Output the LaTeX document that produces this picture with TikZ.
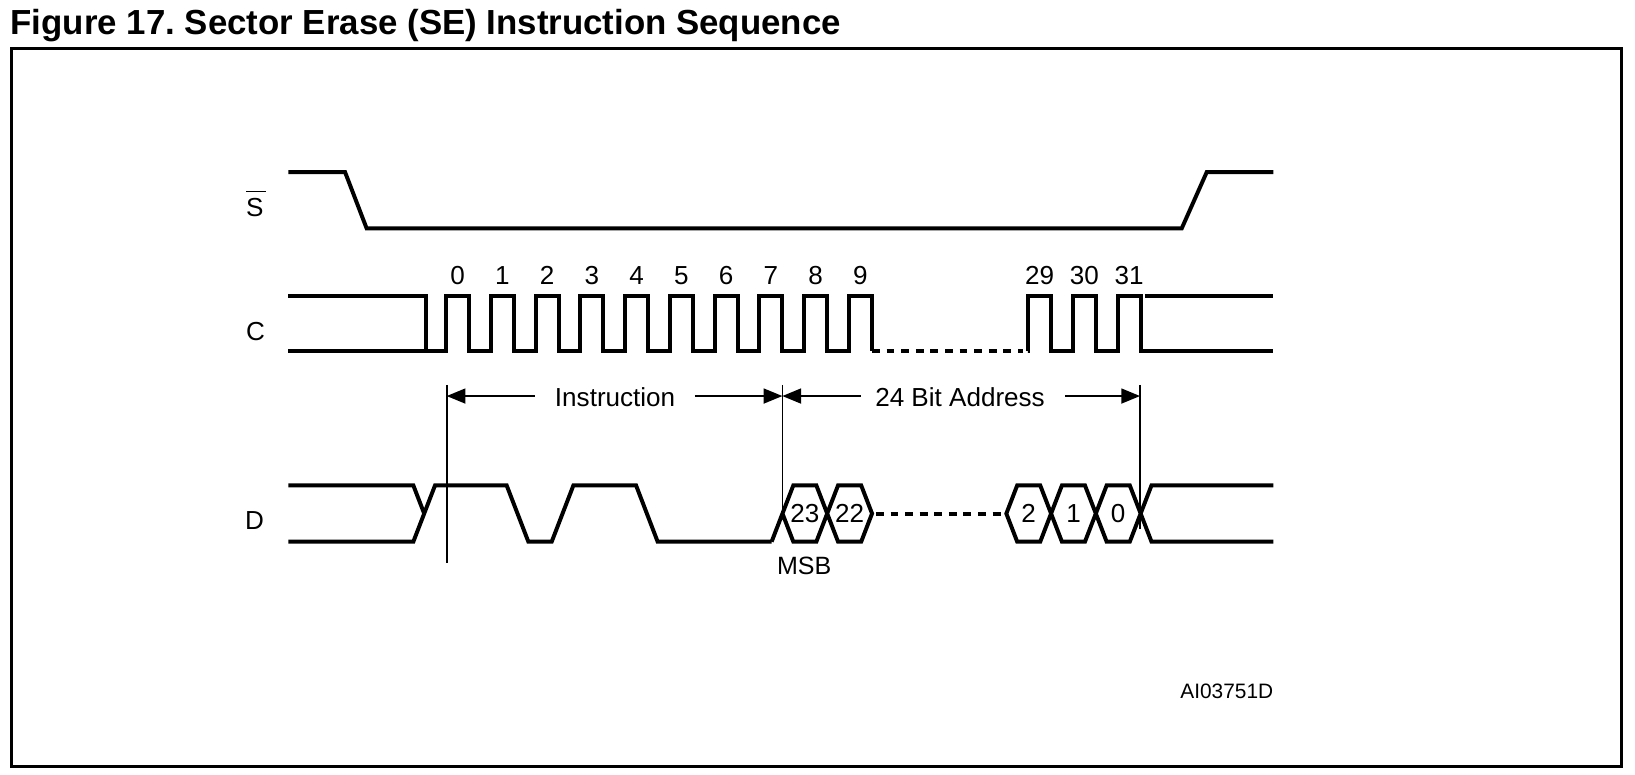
\documentclass[tikz,border=0pt]{standalone}
\usepackage{fontspec}
\setmainfont{Liberation Sans}
\usetikzlibrary{arrows.meta}
\frenchspacing
\begin{document}
\begin{tikzpicture}[x=1pt,y=-1pt,
  sig/.style={line width=3.8pt, line join=miter},
  dashsig/.style={line width=3.8pt, dash pattern=on 7.5pt off 6.5pt},
  thinline/.style={line width=1.6pt},
  dimarrow/.style={line width=1.6pt, -{Triangle[length=18pt,width=14.4pt]}},
  lbl/.style={inner sep=0pt, font=\fontsize{25}{30}\selectfont},
  smalllbl/.style={inner sep=0pt, font=\fontsize{20}{24}\selectfont},
  titlelbl/.style={inner sep=0pt, font=\bfseries\fontsize{33.4}{40}\selectfont}]
\useasboundingbox (0,0) rectangle (1568,742.3);

% title and frame
\node[titlelbl, anchor=base west] (title) at (10,33) {Figure 17. Sector Erase (SE) Instruction Sequence};
\draw[line width=3.2pt] (11.2,46.3) rectangle (1555.3,735.3);

% signal names
\node[lbl, anchor=base west] (slbl) at (235.8,207.8) {\rlap{\raisebox{23.3pt}{\rule{18.8pt}{1.4pt}}}S};
\node[lbl, anchor=base] (clbl) at (245,327) {C};
\node[lbl, anchor=base] (dlbl) at (244,508) {D};

% S-bar
\draw[sig] (276.5,165) -- (330.9,165) -- (351.6,219) -- (1133.3,219) -- (1157.3,165) -- (1221.2,165);

% C
\draw[sig] (276.5,283.5) -- (408.4,283.5) -- (408.4,336.5);
\draw[sig] (276.5,336.5) -- (427.7,336.5)
  \foreach \k in {0,...,9} { -- ({427.7+42.94*\k},336.5) -- ({427.7+42.94*\k},283.5)
     -- ({449.8+42.94*\k},283.5) -- ({449.8+42.94*\k},336.5) };
\draw[dashsig] (836.3,336.5) -- (981,336.5);
\draw[sig] (985.9,336.5)
  \foreach \k in {13,14,15} { -- ({427.7+42.94*\k},336.5) -- ({427.7+42.94*\k},283.5)
     -- ({449.8+42.94*\k},283.5) -- ({449.8+42.94*\k},336.5) } -- (1221.2,336.5);
\draw[sig] (1098,283.5) -- (1221.2,283.5);
\foreach \k/\t in {0/0,1/1,2/2,3/3,4/4,5/5,6/6,7/7,8/8,9/9,13/29,14/30,15/31}
  \node[lbl, anchor=base] (cn\t) at ({438.75+42.94*\k},272.4) {\t};

% D
\draw[sig] (276.5,465.5) -- (396.4,465.5) -- (406.8,492.5);
\draw[sig] (276.5,519.5) -- (396.4,519.5) -- (417.2,465.5) -- (485.9,465.5) -- (506.7,519.5)
  -- (529.1,519.5) -- (549.9,465.5) -- (610,465.5) -- (630.7,519.5) -- (740,519.5);
\draw[sig] (740,519.5) -- (760.8,465.5) -- (782.9,465.5) -- (803.7,519.5) -- (825.9,519.5)
  -- (836.3,492.5) -- (825.9,465.5) -- (803.7,465.5) -- (782.9,519.5) -- (760.8,519.5) -- (750.4,492.5);
\draw[dashsig] (840,492.5) -- (962,492.5);
\draw[sig] (1221.2,465.5) -- (1104.3,465.5) -- (1083.5,519.5) -- (1061.3,519.5) -- (1040.5,465.5)
  -- (1018.4,465.5) -- (997.6,519.5) -- (975.5,519.5) -- (965.1,492.5) -- (975.5,465.5)
  -- (997.6,465.5) -- (1018.4,519.5) -- (1040.5,519.5) -- (1061.3,465.5) -- (1083.5,465.5)
  -- (1104.3,519.5) -- (1221.2,519.5);
\node[lbl, anchor=base] (b23) at (771.9,500.8) {23};
\node[lbl, anchor=base] (b22) at (814.8,500.8) {22};
\node[lbl, anchor=base] (b2) at (986.5,500.8) {2};
\node[lbl, anchor=base] (b1) at (1029.5,500.8) {1};
\node[lbl, anchor=base] (b0) at (1072.4,500.8) {0};
\node[lbl, anchor=base, font=\fontsize{24}{28}\selectfont] (msb) at (771.3,550.5) {MSB};

% markers
\coordinate (m1t) at (428.4,369.2);
\coordinate (m1b) at (428.4,539.6);
\coordinate (m2t) at (750.3,369.2);
\coordinate (m2b) at (750.3,496);
\coordinate (m3t) at (1093.3,369.2);
\coordinate (m3b) at (1093.3,507.6);
\draw[thinline] (m1t) -- (m1b);
\draw[thinline] (m2t) -- (m2b);
\draw[thinline] (m3t) -- (m3b);

% dimension arrows
\node[lbl, anchor=base] (instr) at (589.9,390) {Instruction};
\node[lbl, anchor=base] (addr) at (920.7,390) {24 Bit Address};
\coordinate (a1) at (428.4,379.8);
\coordinate (a1s) at (513,379.8);
\coordinate (a2s) at (666.5,379.8);
\coordinate (a2) at (750.3,379.8);
\coordinate (a3s) at (825.7,379.8);
\coordinate (a4s) at (1021.4,379.8);
\coordinate (a4) at (1093.3,379.8);
\draw[dimarrow] (a1s) -- (a1);
\draw[dimarrow] (a2s) -- (a2);
\draw[dimarrow] (a3s) -- (a2);
\draw[dimarrow] (a4s) -- (a4);

\node[smalllbl, anchor=base east] (ref) at (1221.2,669.7) {AI03751D};
\end{tikzpicture}
\end{document}
